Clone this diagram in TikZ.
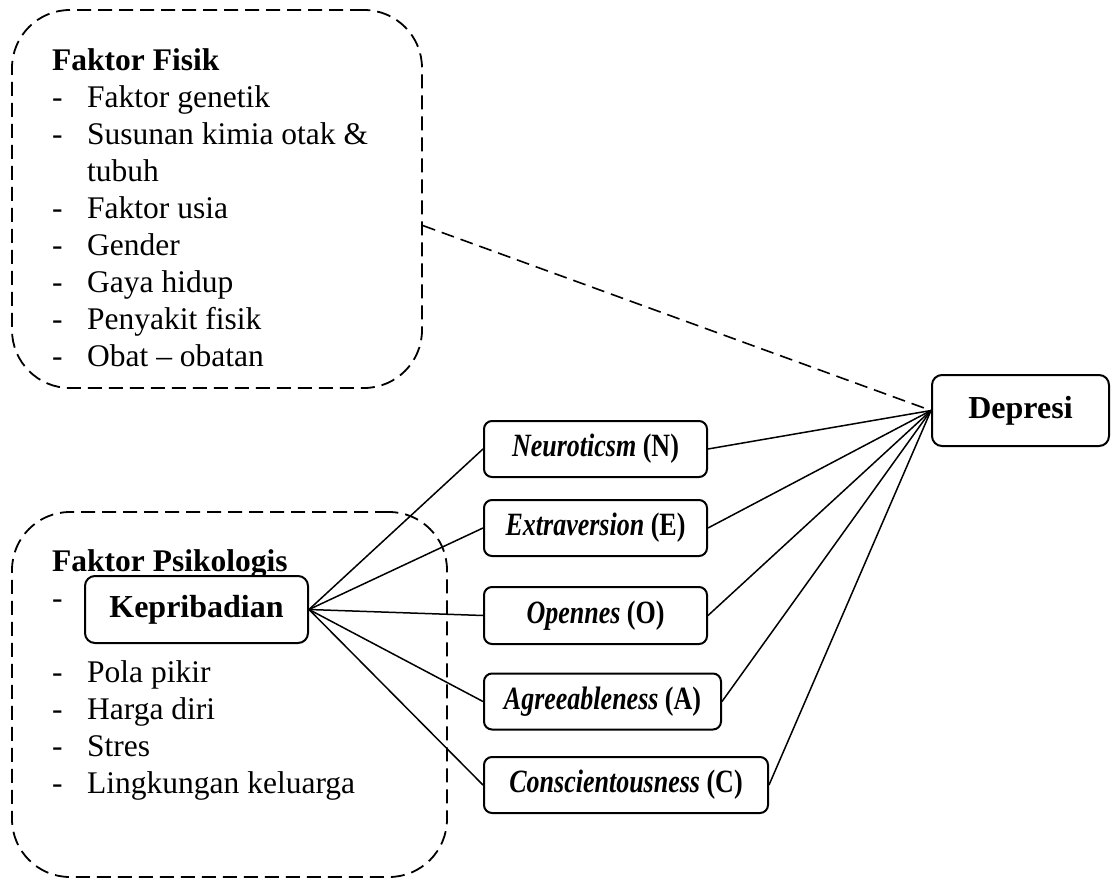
\documentclass[tikz,border=0pt]{standalone}
\usepackage{fontspec}
\setmainfont{Liberation Serif}
\newfontfamily\narrowserif[FakeStretch=0.8]{Liberation Serif}
\usetikzlibrary{calc}
\begin{document}
\begin{tikzpicture}[x=1pt,y=-1pt,
  groupbox/.style={draw,line width=1.8pt,dash pattern=on 14pt off 7pt,rounded corners=58pt,inner sep=0pt},
  solidbox/.style={draw,line width=2pt,rounded corners=10pt,inner sep=0pt,fill=white},
  traitbox/.style={solidbox,rounded corners=8pt,minimum height=56pt,font=\narrowserif\fontsize{32.5}{36}\selectfont\bfseries},
  link/.style={line width=1.5pt},
  dlink/.style={line width=1.6pt,dash pattern=on 13pt off 7pt},
  listtext/.style={inner sep=0pt,anchor=north west,font=\fontsize{31.5}{37}\selectfont}
]
\useasboundingbox (0,0) rectangle (1115,882);
% group boxes
\node[groupbox,minimum width=410pt,minimum height=378pt] (fisik) at (217,199) {};
\node[groupbox,minimum width=435pt,minimum height=365pt] (psiko) at (229.5,694.5) {};
% lists
\node[listtext] (fisiklist) at (52,44) {%
  \begin{tabular}[t]{@{}p{35pt}@{}l@{}}
  \multicolumn{2}{@{}l@{}}{\textbf{Faktor Fisik}}\\
  - & Faktor genetik\\
  - & Susunan kimia otak \&\\
    & tubuh\\
  - & Faktor usia\\
  - & Gender\\
  - & Gaya hidup\\
  - & Penyakit fisik\\
  - & Obat -- obatan
  \end{tabular}};
\node[listtext] (psikolist) at (52,545) {%
  \begin{tabular}[t]{@{}p{35pt}@{}l@{}}
  \multicolumn{2}{@{}l@{}}{\textbf{Faktor Psikologis}}\\
  - & \\
    & \\
  - & Pola pikir\\
  - & Harga diri\\
  - & Stres\\
  - & Lingkungan keluarga
  \end{tabular}};
% main nodes
\node[solidbox,minimum width=223pt,minimum height=67pt,font=\fontsize{32}{36}\selectfont\bfseries] (kep) at (196.5,609.5) {Kepribadian};
\node[solidbox,minimum width=177pt,minimum height=71pt,font=\fontsize{32}{36}\selectfont\bfseries] (dep) at (1020.5,410.5) {Depresi};
\node[traitbox,minimum width=223pt] (n) at (595.5,449) {\textit{Neuroticsm} (N)};
\node[traitbox,minimum width=223pt] (e) at (595.5,528) {\textit{Extraversion} (E)};
\node[traitbox,minimum width=223pt,minimum height=57pt] (o) at (595.5,615.5) {\textit{Opennes} (O)};
\node[traitbox,minimum width=237pt] (a) at (602.5,701.5) {\textit{Agreeableness} (A)};
\node[traitbox,minimum width=284pt] (c) at (626,785) {\textit{Conscientousness} (C)};
% connectors
\foreach \t in {n,e,o,a,c}{
  \draw[link] (kep.east) -- (\t.west);
  \draw[link] (dep.west) -- (\t.east);
}
\draw[dlink] ($(fisik.north east)!0.57!(fisik.south east)$) -- (dep.west);
\end{tikzpicture}
\end{document}
